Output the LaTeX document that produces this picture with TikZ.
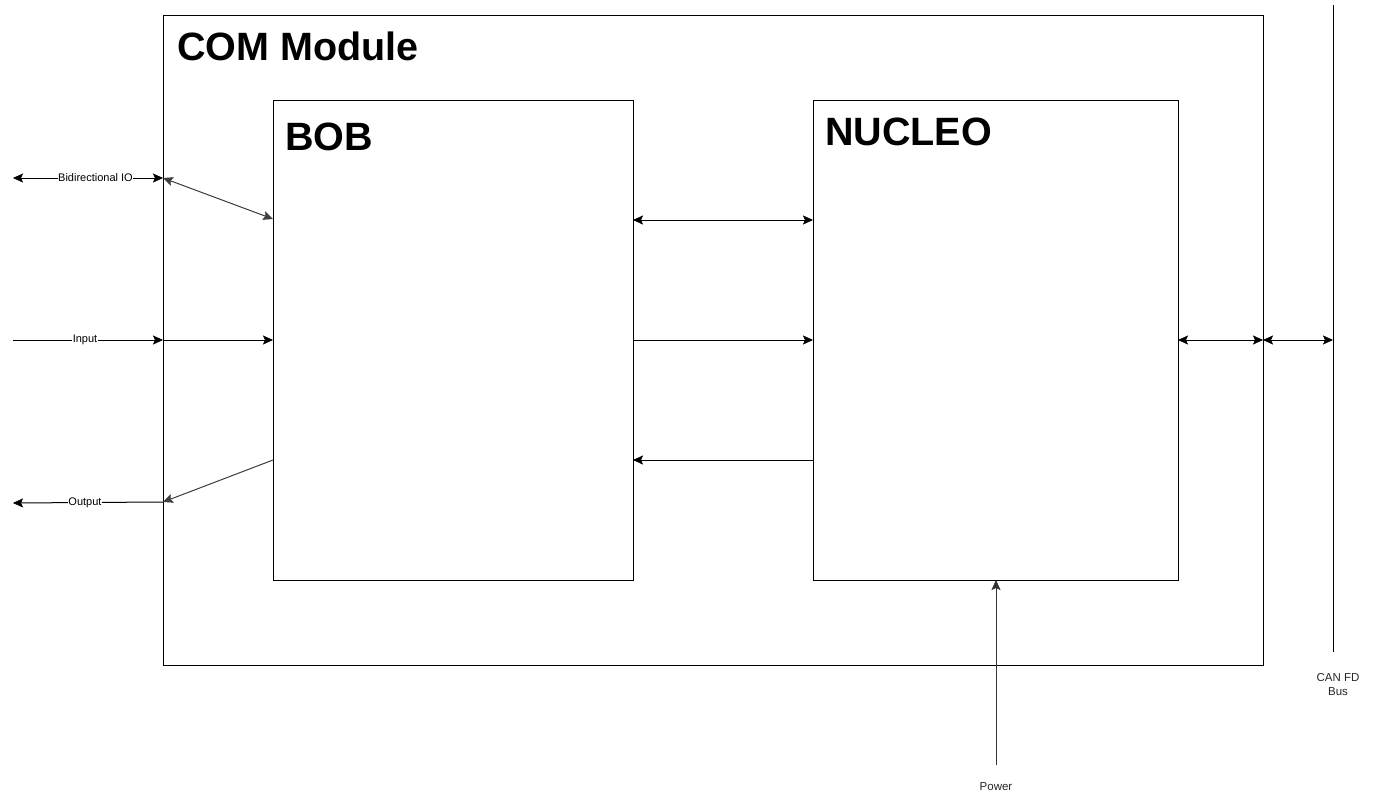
\documentclass[tikz,border=0pt]{standalone}
\usepackage{fontspec}
\setmainfont{Liberation Sans}
\usetikzlibrary{arrows.meta}
\begin{document}
\begin{tikzpicture}[x=1pt,y=-1pt,
  box/.style={draw=black,line width=1pt,fill=white,rectangle,inner sep=0pt},
  title/.style={font=\fontsize{39.5}{40}\selectfont\bfseries,anchor=base west,inner sep=0pt},
  conn/.style={line width=1pt,draw=black},
  ah/.tip={Stealth[length=10pt,width=9pt,inset=2pt,line width=0.5pt]},
  tip/.style={-ah},
  bitip/.style={ah-ah},
  lbl/.style={font=\fontsize{11}{13}\selectfont,fill=white,inner sep=0.5pt},
  freelbl/.style={font=\fontsize{11.5}{14}\selectfont,text=black!85,align=center,inner sep=0pt}
]
\useasboundingbox (0,0) rectangle (1379,809);
\fill[white] (0,0) rectangle (1379,809);
% boxes
\node[box,minimum width=1100pt,minimum height=650pt] (com) at (713,340) {};
\node[box,minimum width=360pt,minimum height=480pt] (bob) at (453,340) {};
\node[box,minimum width=365pt,minimum height=480pt] (nucleo) at (995.5,340) {};
\node[title] (comt) at (177,60) {COM Module};
\node[title] (bobt) at (285,150) {BOB};
\node[title] (nuct) at (825,145) {NUCLEO};
% coordinates
\coordinate (bidL) at (13,178);
\coordinate (bidC) at (163,178);
\coordinate (bidB) at (273,219);
\coordinate (inL) at (13,340);
\coordinate (inC) at (163,340);
\coordinate (inB) at (273,340);
\coordinate (outB) at (273,460);
\coordinate (outC) at (163,502);
\coordinate (outL) at (13,503);
\coordinate (bn1a) at (633,220);
\coordinate (bn1b) at (813,220);
\coordinate (bn2a) at (633,340);
\coordinate (bn2b) at (813,340);
\coordinate (bn3a) at (813,460);
\coordinate (bn3b) at (633,460);
\coordinate (nr) at (1178,340);
\coordinate (cr) at (1263,340);
\coordinate (busT) at (1333,5);
\coordinate (busB) at (1333,652);
\coordinate (busP) at (1333,340);
\coordinate (pwrB) at (996,765);
\coordinate (pwrT) at (996,580);
% bus line
\draw[line width=1pt] (busT) -- (busB);
\node[freelbl] (busl) at (1338,685) {CAN FD\\Bus};
% left connectors
\draw[conn,bitip] (bidL) -- (bidC) node[lbl,pos=0.55] (bidl) {Bidirectional IO};
\draw[conn,bitip,draw=black!75,fill=black!75] (bidC) -- (bidB);
\draw[conn,tip] (inL) -- (inC) node[lbl,pos=0.48] (inl) {Input};
\draw[conn,tip] (inC) -- (inB);
\draw[conn,tip,draw=black!75,fill=black!75] (outB) -- (outC);
\draw[conn,tip] (outC) -- (outL) node[lbl,pos=0.52] (outl) {Output};
% middle connectors
\draw[conn,bitip] (bn1a) -- (bn1b);
\draw[conn,tip] (bn2a) -- (bn2b);
\draw[conn,tip] (bn3a) -- (bn3b);
% right connectors
\draw[conn,bitip] (nr) -- (cr);
\draw[conn,bitip] (cr) -- (busP);
% power
\draw[conn,tip,draw=black!80,fill=black!80] (pwrB) -- (pwrT);
\node[freelbl] (pwrl) at (996,787) {Power};
\end{tikzpicture}
\end{document}
